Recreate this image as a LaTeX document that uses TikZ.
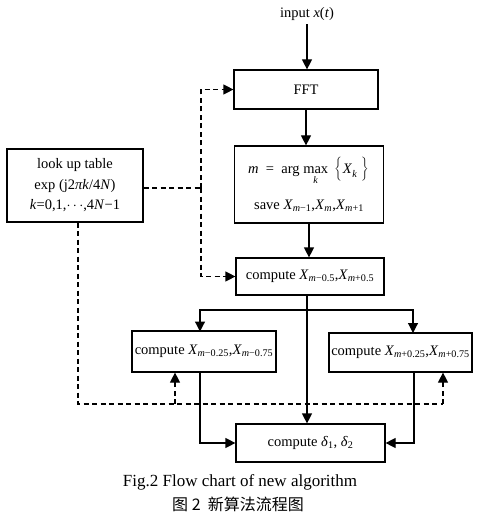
\documentclass[tikz,border=0pt]{standalone}
\usepackage{fontspec}
\setmainfont{Liberation Serif}
\newfontfamily\cjk{Noto Sans CJK SC}
\usetikzlibrary{arrows.meta}
\newcommand{\vi}[1]{\textit{#1}}
\begin{document}
\begin{tikzpicture}[x=1pt,y=-1pt,
  box/.style={draw,line width=1.2pt,inner sep=0pt,align=center,font=\fontsize{14.5}{20}\selectfont},
  flow/.style={line width=1.2pt,-{Triangle[length=10pt,width=10pt]}},
  line/.style={line width=1.2pt},
  dline/.style={line width=1.2pt,dash pattern=on 5pt off 3.5pt},
  darrow/.style={dline,-{Triangle[length=10pt,width=10pt]}}]
\useasboundingbox (0,0) rectangle (480,513);
\node[font=\fontsize{14.5}{17}\selectfont] (in) at (307,14) {input \vi{x}(\vi{t})};
\node[box,minimum width=144pt,minimum height=39pt] (fft) at (306,89.5) {FFT};
\node[box,minimum width=149pt,minimum height=77pt] (am) at (309,184.5)
  {\vi{m}\ \ =\ \ arg $\mathop{\hbox{max}}\limits_{\hbox{\raisebox{-4pt}{\fontsize{10}{11}\selectfont\vi{k}}}}\ \left\{\vbox to 16pt{}\right.$\vi{X}\textsubscript{\raisebox{-2pt}{\vi{k}}}\ $\left\}\vbox to 16pt{}\right.$\\[15pt]
   save \vi{X}\textsubscript{\vi{m}−1},\vi{X}\textsubscript{\vi{m}},\vi{X}\textsubscript{\vi{m}+1}};
\node[box,minimum width=148pt,minimum height=37pt] (c1) at (310,276.5)
  {compute \vi{X}\textsubscript{\vi{m}−0.5},\vi{X}\textsubscript{\vi{m}+0.5}};
\node[box,minimum width=136pt,minimum height=73pt,font=\fontsize{14.5}{20.5}\selectfont] (lut) at (75,185.5)
  {look up table\\exp (j2\vi{πk}/4\vi{N})\\\vi{k}=0,1,$\cdots$,4\vi{N}−1};
\node[box,minimum width=144pt,minimum height=41pt] (cl) at (204,351.5)
  {compute \vi{X}\textsubscript{\vi{m}−0.25},\vi{X}\textsubscript{\vi{m}−0.75}};
\node[box,minimum width=143pt,minimum height=39pt] (cr) at (400.5,352.5)
  {compute \vi{X}\textsubscript{\vi{m}+0.25},\vi{X}\textsubscript{\vi{m}+0.75}};
\node[box,minimum width=149pt,minimum height=38pt] (cd) at (310.5,443)
  {compute \vi{δ}\textsubscript{1}, \vi{δ}\textsubscript{2}};
\node[font=\fontsize{17}{19}\selectfont] (cap1) at (240,482) {Fig.2 Flow chart of new algorithm};
\node[font=\fontsize{16}{18}\selectfont\cjk] (cap2) at (238,504) {图 2\ \ 新算法流程图};
% solid flow
\draw[flow] (in.south) -- (in.south |- fft.north);
\draw[flow] (fft.south) -- (fft.south |- am.north);
\draw[flow] (am.south) -- (am.south |- c1.north);
\coordinate (j2) at (307,310);
\draw[line] (c1.south -| j2) -- (j2);
\draw[flow] (j2) -- (j2 |- cd.north);
\draw[flow] (j2) -| (200,331.5);
\draw[flow] (j2) -| (413,333);
\coordinate (bl) at (200,372);
\coordinate (br) at (414,372);
\draw[flow] (bl) |- (cd.west);
\draw[flow] (br) |- (cd.east);
% dashed
\coordinate (j1) at (201,188);
\draw[dline] (lut.east |- j1) -- (j1);
\draw[darrow] (j1) |- (fft.west);
\draw[darrow] (j1) |- (c1.west);
\coordinate (j3) at (443,404);
\coordinate (j4) at (175,404);
\draw[dline] (lut.south -| 78,0) |- (j3);
\draw[darrow] (j3) -- (j3 |- cr.south);
\draw[darrow] (j4) -- (j4 |- cl.south);
\end{tikzpicture}
\end{document}
